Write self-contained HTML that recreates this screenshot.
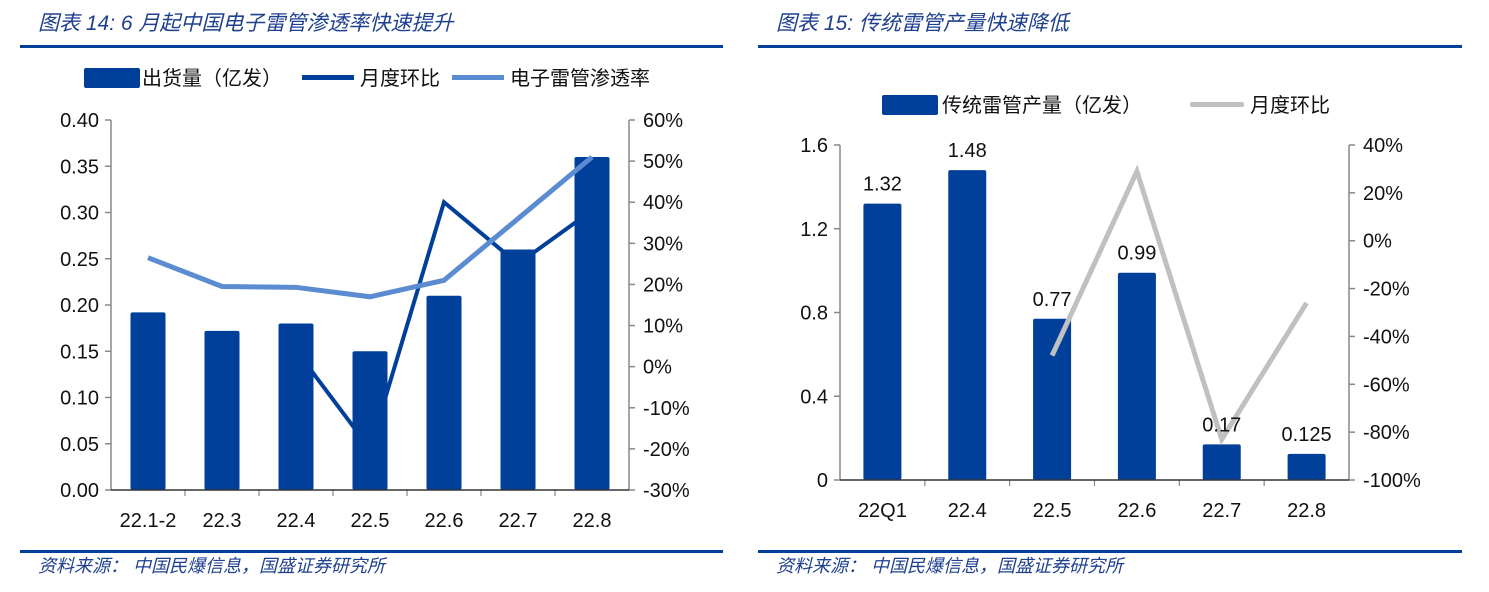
<!DOCTYPE html>
<html><head><meta charset="utf-8"><style>
body{margin:0;background:#fff;width:1489px;height:592px;overflow:hidden}
svg{display:block}
text{font-family:"Liberation Sans","Noto Sans CJK SC",sans-serif}
.t{fill:#1f3f8f;font-style:italic;font-size:21px}
.s{fill:#1f3f8f;font-style:italic;font-size:18px}
.lab{fill:#111;font-size:20px}
.lg{fill:#111;font-size:20px}
</style></head><body>
<svg id="svg" width="1489" height="592">
<text class="t" x="38" y="30">图表 14:  6 月起中国电子雷管渗透率快速提升</text>
<rect x="20" y="45" width="703" height="3" fill="#003f9a"/>
<text class="t" x="776" y="30">图表 15:  传统雷管产量快速降低</text>
<rect x="758" y="45" width="704" height="3" fill="#003f9a"/>
<rect x="20" y="550" width="703" height="3" fill="#003f9a"/>
<rect x="758" y="550" width="704" height="3" fill="#003f9a"/>
<text class="s" x="38" y="572">资料来源：  中国民爆信息，国盛证券研究所</text>
<text class="s" x="776" y="572">资料来源：  中国民爆信息，国盛证券研究所</text>

<g>
<rect x="84" y="68" width="56" height="20" fill="#003f9a" rx="2"/>
<text class="lg" x="142" y="85">出货量（亿发）</text>
<rect x="302" y="75" width="52" height="5" fill="#003f9a"/>
<text class="lg" x="360" y="85">月度环比</text>
<rect x="452" y="75" width="52" height="5" fill="#5b8bd0"/>
<text class="lg" x="510" y="85">电子雷管渗透率</text>
</g>
<g>
<rect x="882" y="95" width="56" height="20" fill="#003f9a" rx="2"/>
<text class="lg" x="942" y="112">传统雷管产量（亿发）</text>
<rect x="1190" y="102" width="54" height="5" fill="#c0c0c0" rx="2"/>
<text class="lg" x="1250" y="112">月度环比</text>
</g>
<g id="c1"></g>
<g id="c2"></g>
</svg>
<script>
const cats1=["22.1-2","22.3","22.4","22.5","22.6","22.7","22.8"];
const shipments=[0.192,0.172,0.18,0.15,0.21,0.26,0.36];
const mom1=[null,null,4,-20,40,25,38];
const penetration=[26.5,19.5,19.3,17,21,36,51];
const leftTicks1=["0.00","0.05","0.10","0.15","0.20","0.25","0.30","0.35","0.40"];
const rightTicks1=[-30,-20,-10,0,10,20,30,40,50,60];

const cats2=["22Q1","22.4","22.5","22.6","22.7","22.8"];
const traditional=[1.32,1.48,0.77,0.99,0.17,0.125];
const tradLabels=["1.32","1.48","0.77","0.99","0.17","0.125"];
const mom2=[null,null,-48,29,-83,-26];
const leftTicks2=["0","0.4","0.8","1.2","1.6"];
const rightTicks2=[-100,-80,-60,-40,-20,0,20,40];

const NS="http://www.w3.org/2000/svg";
function mk(p,tag,a){const e=document.createElementNS(NS,tag);for(const k in a)e.setAttribute(k,a[k]);p.appendChild(e);return e;}

function chart(g,o){
  const {x0,x1,y0,y1,lmin,lmax,rmin,rmax,cats,ltick,rtick}=o;
  const ly=v=>y0-(v-lmin)/(lmax-lmin)*(y0-y1);
  const ry=v=>y0-(v-rmin)/(rmax-rmin)*(y0-y1);
  const step=(x1-x0)/cats.length;
  const cx=i=>x0+step*(i+0.5);
  let e=mk(g,'line',{x1:x0,y1:y1,x2:x0,y2:y0,stroke:'#888','stroke-width':1.5});
  
  e=mk(g,'line',{x1:x1,y1:y1,x2:x1,y2:y0,stroke:'#888','stroke-width':1.5});
  
  ltick.forEach(t=>{const y=ly(parseFloat(t));
    mk(g,'line',{x1:x0-6,y1:y,x2:x0,y2:y,stroke:'#888','stroke-width':1.5});
    const tx=mk(g,'text',{x:x0-12,y:y+7,'text-anchor':'end',class:'lab'});tx.textContent=t;
    });
  rtick.forEach(t=>{const y=ry(t);
    mk(g,'line',{x1:x1,y1:y,x2:x1+6,y2:y,stroke:'#888','stroke-width':1.5});
    const tx=mk(g,'text',{x:x1+14,y:y+7,class:'lab'});tx.textContent=t+'%';
    });
  for(let i=1;i<cats.length;i++){const x=x0+step*i;mk(g,'line',{x1:x,y1:y0,x2:x,y2:y0+6,stroke:'#888','stroke-width':1.2});}
  cats.forEach((c,i)=>{const tx=mk(g,'text',{x:cx(i),y:y0+37,'text-anchor':'middle',class:'lab'});tx.textContent=c;
    });
  return {ly,ry,cx,step};
}
function line(g,vals,f,cx,col,w,name){
  let d='',pen=false;
  vals.forEach((v,i)=>{if(v==null){pen=false;return;}d+=(pen?'L':'M')+cx(i)+','+f(v);pen=true;});
  const e=mk(g,'path',{d:d,fill:'none',stroke:col,'stroke-width':w,'stroke-linejoin':'miter'});
  
}
function bars(g,vals,ly,cx,bw,y0,name){
  vals.forEach((v,i)=>{const y=ly(v);
    const r=mk(g,'rect',{x:cx(i)-bw/2,y:y,width:bw,height:y0-y,fill:'#003f9a',rx:2});
    });
}
const g1=document.getElementById('c1');
const A=chart(g1,{x0:111,x1:629,y0:490,y1:120,lmin:0,lmax:0.4,rmin:-30,rmax:60,cats:cats1,ltick:leftTicks1,rtick:rightTicks1});
line(g1,mom1,A.ry,A.cx,'#003f9a',4,'mom-line');
bars(g1,shipments,A.ly,A.cx,35,490,'shipment-bar');
line(g1,penetration,A.ry,A.cx,'#5b8bd0',5,'penetration-line');
mk(g1,'line',{x1:111,y1:490,x2:629,y2:490,stroke:'#333','stroke-width':1.5});
const g2=document.getElementById('c2');
const B=chart(g2,{x0:840,x1:1349,y0:480,y1:145,lmin:0,lmax:1.6,rmin:-100,rmax:40,cats:cats2,ltick:leftTicks2,rtick:rightTicks2});
bars(g2,traditional,B.ly,B.cx,38,480,'traditional-bar');
line(g2,mom2,B.ry,B.cx,'#c0c0c0',5,'mom-gray-line');
traditional.forEach((v,i)=>{const tx=mk(g2,'text',{x:B.cx(i),y:B.ly(v)-13,'text-anchor':'middle',class:'lab'});tx.textContent=tradLabels[i];
  
  });
mk(g2,'line',{x1:840,y1:480,x2:1349,y2:480,stroke:'#333','stroke-width':1.5});
</script>
</body></html>
